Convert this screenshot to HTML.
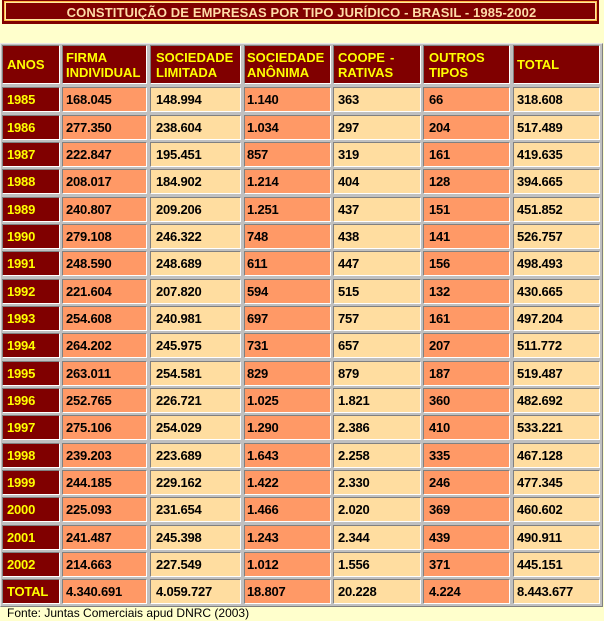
<!DOCTYPE html>
<html>
<head>
<meta charset="utf-8">
<style>
html,body{margin:0;padding:0;}
body{width:604px;height:621px;background:#FFFFCC;position:relative;overflow:hidden;font-family:"Liberation Sans",sans-serif;}
.tsh{position:absolute;left:2px;top:0;width:597px;height:24px;background:#800000;}
.tbox{position:absolute;left:4px;top:1px;width:593px;height:20px;box-sizing:border-box;border:1px solid #FFB848;box-shadow:inset 0 0 0 1px #FFE8A0;background:#800000;}
.ttl{position:absolute;left:0;top:4px;width:593px;text-align:center;font:bold 13px/13px "Liberation Sans",sans-serif;letter-spacing:0.12px;color:#FFDCA8;white-space:nowrap;}
.tab{position:absolute;left:0;top:43px;width:603px;height:564px;box-sizing:border-box;background:#C0C0C0;border:1px solid;border-color:#E8E8E8 #808080 #808080 #E8E8E8;}
.r{position:absolute;left:0;width:604px;height:25px;}
.c{position:absolute;top:0;height:25px;box-sizing:border-box;border:1px solid;border-color:#808080 #FFFFFF #FFFFFF #808080;font:bold 13px/13px "Liberation Sans",sans-serif;letter-spacing:-0.2px;padding-top:5px;white-space:nowrap;color:#000;}
.c0{left:2px;width:58px;padding-left:4px;}
.c1{left:62px;width:85px;padding-left:3px;}
.c2{left:150px;width:91px;padding-left:5px;}
.c3{left:244px;width:87px;padding-left:2px;}
.c4{left:333px;width:88px;padding-left:4px;}
.c5{left:423px;width:87px;padding-left:5px;}
.c6{left:513px;width:87px;padding-left:3px;}
.m{background:#800000;color:#FFFF00;}
.o{background:#FF9966;}
.l{background:#FFDDA0;}
.h{height:39px;}
.h .c{height:39px;padding-top:4px;line-height:15px;letter-spacing:0;}
.h .s{padding-top:11px;}
.foot{position:absolute;left:7px;top:607px;font:12px/12px "Liberation Sans",sans-serif;color:#000;white-space:nowrap;}
</style>
</head>
<body>
<div class="tsh"></div>
<div class="tbox"><div class="ttl">CONSTITUIÇÃO DE EMPRESAS POR TIPO JURÍDICO - BRASIL - 1985-2002</div></div>

<div class="tab"></div>

<div class="r h" style="top:45px">
<div class="c c0 m s">ANOS</div>
<div class="c c1 m">FIRMA<br>INDIVIDUAL</div>
<div class="c c2 m">SOCIEDADE<br>LIMITADA</div>
<div class="c c3 m">SOCIEDADE<br>ANÔNIMA</div>
<div class="c c4 m">COOPE<span style="margin-left:5px">-</span><br>RATIVAS</div>
<div class="c c5 m">OUTROS<br>TIPOS</div>
<div class="c c6 m s">TOTAL</div>
</div>

<div class="r" style="top:87px"><div class="c c0 m">1985</div><div class="c c1 o">168.045</div><div class="c c2 l">148.994</div><div class="c c3 o">1.140</div><div class="c c4 l">363</div><div class="c c5 o">66</div><div class="c c6 l">318.608</div></div>
<div class="r" style="top:115px"><div class="c c0 m">1986</div><div class="c c1 o">277.350</div><div class="c c2 l">238.604</div><div class="c c3 o">1.034</div><div class="c c4 l">297</div><div class="c c5 o">204</div><div class="c c6 l">517.489</div></div>
<div class="r" style="top:142px"><div class="c c0 m">1987</div><div class="c c1 o">222.847</div><div class="c c2 l">195.451</div><div class="c c3 o">857</div><div class="c c4 l">319</div><div class="c c5 o">161</div><div class="c c6 l">419.635</div></div>
<div class="r" style="top:169px"><div class="c c0 m">1988</div><div class="c c1 o">208.017</div><div class="c c2 l">184.902</div><div class="c c3 o">1.214</div><div class="c c4 l">404</div><div class="c c5 o">128</div><div class="c c6 l">394.665</div></div>
<div class="r" style="top:197px"><div class="c c0 m">1989</div><div class="c c1 o">240.807</div><div class="c c2 l">209.206</div><div class="c c3 o">1.251</div><div class="c c4 l">437</div><div class="c c5 o">151</div><div class="c c6 l">451.852</div></div>
<div class="r" style="top:224px"><div class="c c0 m">1990</div><div class="c c1 o">279.108</div><div class="c c2 l">246.322</div><div class="c c3 o">748</div><div class="c c4 l">438</div><div class="c c5 o">141</div><div class="c c6 l">526.757</div></div>
<div class="r" style="top:251px"><div class="c c0 m">1991</div><div class="c c1 o">248.590</div><div class="c c2 l">248.689</div><div class="c c3 o">611</div><div class="c c4 l">447</div><div class="c c5 o">156</div><div class="c c6 l">498.493</div></div>
<div class="r" style="top:279px"><div class="c c0 m">1992</div><div class="c c1 o">221.604</div><div class="c c2 l">207.820</div><div class="c c3 o">594</div><div class="c c4 l">515</div><div class="c c5 o">132</div><div class="c c6 l">430.665</div></div>
<div class="r" style="top:306px"><div class="c c0 m">1993</div><div class="c c1 o">254.608</div><div class="c c2 l">240.981</div><div class="c c3 o">697</div><div class="c c4 l">757</div><div class="c c5 o">161</div><div class="c c6 l">497.204</div></div>
<div class="r" style="top:333px"><div class="c c0 m">1994</div><div class="c c1 o">264.202</div><div class="c c2 l">245.975</div><div class="c c3 o">731</div><div class="c c4 l">657</div><div class="c c5 o">207</div><div class="c c6 l">511.772</div></div>
<div class="r" style="top:361px"><div class="c c0 m">1995</div><div class="c c1 o">263.011</div><div class="c c2 l">254.581</div><div class="c c3 o">829</div><div class="c c4 l">879</div><div class="c c5 o">187</div><div class="c c6 l">519.487</div></div>
<div class="r" style="top:388px"><div class="c c0 m">1996</div><div class="c c1 o">252.765</div><div class="c c2 l">226.721</div><div class="c c3 o">1.025</div><div class="c c4 l">1.821</div><div class="c c5 o">360</div><div class="c c6 l">482.692</div></div>
<div class="r" style="top:415px"><div class="c c0 m">1997</div><div class="c c1 o">275.106</div><div class="c c2 l">254.029</div><div class="c c3 o">1.290</div><div class="c c4 l">2.386</div><div class="c c5 o">410</div><div class="c c6 l">533.221</div></div>
<div class="r" style="top:443px"><div class="c c0 m">1998</div><div class="c c1 o">239.203</div><div class="c c2 l">223.689</div><div class="c c3 o">1.643</div><div class="c c4 l">2.258</div><div class="c c5 o">335</div><div class="c c6 l">467.128</div></div>
<div class="r" style="top:470px"><div class="c c0 m">1999</div><div class="c c1 o">244.185</div><div class="c c2 l">229.162</div><div class="c c3 o">1.422</div><div class="c c4 l">2.330</div><div class="c c5 o">246</div><div class="c c6 l">477.345</div></div>
<div class="r" style="top:497px"><div class="c c0 m">2000</div><div class="c c1 o">225.093</div><div class="c c2 l">231.654</div><div class="c c3 o">1.466</div><div class="c c4 l">2.020</div><div class="c c5 o">369</div><div class="c c6 l">460.602</div></div>
<div class="r" style="top:525px"><div class="c c0 m">2001</div><div class="c c1 o">241.487</div><div class="c c2 l">245.398</div><div class="c c3 o">1.243</div><div class="c c4 l">2.344</div><div class="c c5 o">439</div><div class="c c6 l">490.911</div></div>
<div class="r" style="top:552px"><div class="c c0 m">2002</div><div class="c c1 o">214.663</div><div class="c c2 l">227.549</div><div class="c c3 o">1.012</div><div class="c c4 l">1.556</div><div class="c c5 o">371</div><div class="c c6 l">445.151</div></div>
<div class="r" style="top:579px"><div class="c c0 m">TOTAL</div><div class="c c1 o">4.340.691</div><div class="c c2 l">4.059.727</div><div class="c c3 o">18.807</div><div class="c c4 l">20.228</div><div class="c c5 o">4.224</div><div class="c c6 l">8.443.677</div></div>

<div class="foot">Fonte: Juntas Comerciais apud DNRC (2003)</div>
</body>
</html>
